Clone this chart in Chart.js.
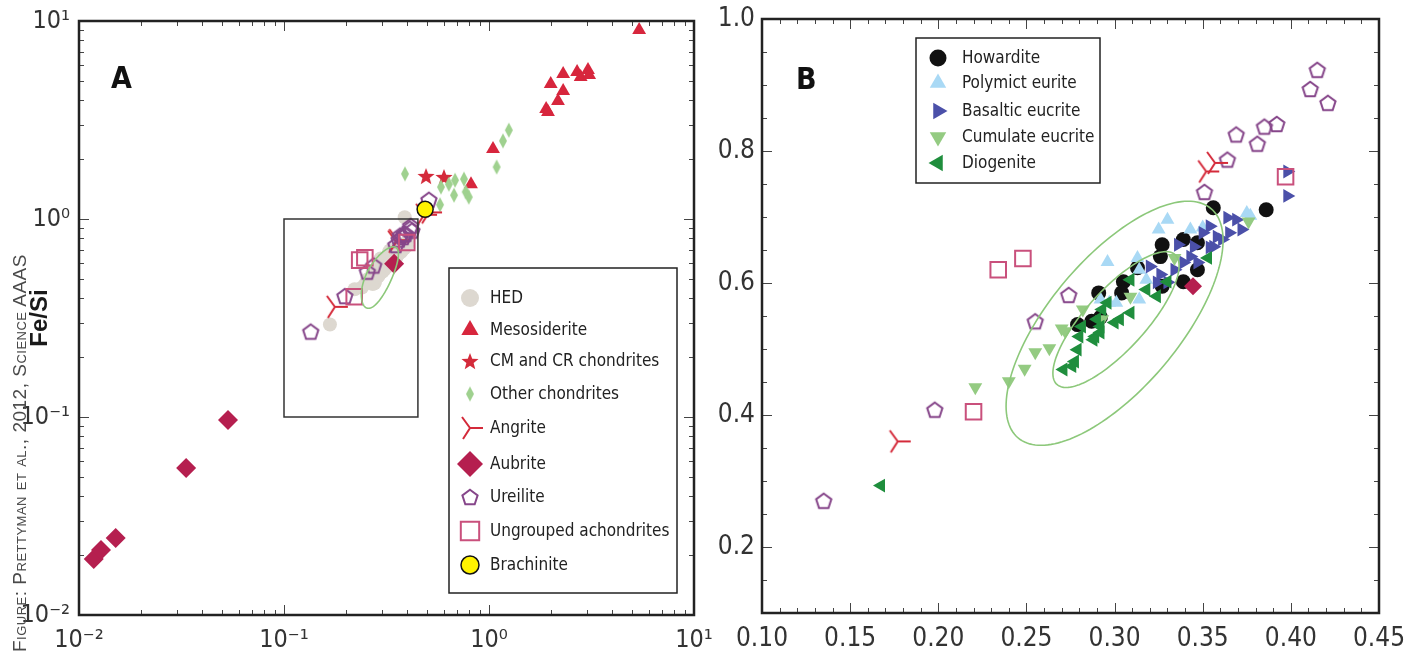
<!DOCTYPE html>
<html>
<head>
<meta charset="utf-8">
<title>Fe/Si vs Mg/Si</title>
<script src="https://cdn.jsdelivr.net/npm/chart.js@4.4.1/dist/chart.umd.min.js"></script>
<style>
  html, body { margin: 0; padding: 0; background: #fff; }
  body { width: 1413px; height: 657px; position: relative; overflow: hidden; }
  .panel { position: absolute; top: 0; }
  #wrapA { left: 0; }
  #wrapB { left: 700px; }
  .tag { position: absolute; font: bold 30px 'Liberation Sans Narrow', 'DejaVu Sans Condensed', sans-serif; line-height: 30px; color: #111; }
  #credit {
    position: absolute; left: 10px; top: 652px; white-space: nowrap;
    transform-origin: 0 0; transform: rotate(-90deg);
    font: 19px 'Liberation Sans', Arial, sans-serif; font-variant: small-caps;
    letter-spacing: 0.5px; line-height: 20px; color: #4a4a4a;
  }
</style>
</head>
<body>
<div class="panel" id="wrapA"><canvas id="chartA" width="720" height="657"></canvas></div>
<div class="panel" id="wrapB"><canvas id="chartB" width="713" height="657"></canvas></div>
<div class="tag" style="left:111px; top:63px;">A</div>
<div class="tag" style="left:796px; top:64px;">B</div>
<div id="credit">Figure: Prettyman et al., 2012, Science AAAS</div>

<script>
// ---- meteorite groups inside the HED window (panel B, also shown in A) ----
// [Mg/Si, Fe/Si]
const HOWARDITE = [[0.356, 0.714], [0.386, 0.711], [0.339, 0.666], [0.327, 0.658], [0.347, 0.661],
  [0.326, 0.640], [0.313, 0.623], [0.347, 0.620], [0.339, 0.602], [0.327, 0.595], [0.305, 0.602],
  [0.304, 0.585], [0.291, 0.585], [0.279, 0.537], [0.287, 0.542], [0.292, 0.548]];
const POLYMICT = [[0.330, 0.696], [0.325, 0.681], [0.343, 0.681], [0.296, 0.632], [0.313, 0.638],
  [0.375, 0.706], [0.350, 0.684], [0.314, 0.620], [0.301, 0.570], [0.314, 0.575], [0.297, 0.570],
  [0.318, 0.605], [0.377, 0.702], [0.292, 0.575]];
const BASALTIC = [[0.398, 0.769], [0.398, 0.732], [0.354, 0.686], [0.364, 0.699], [0.369, 0.696],
  [0.372, 0.681], [0.358, 0.670], [0.365, 0.676], [0.361, 0.666], [0.354, 0.654], [0.345, 0.655],
  [0.336, 0.658], [0.343, 0.640], [0.339, 0.631], [0.347, 0.631], [0.326, 0.613], [0.324, 0.601],
  [0.320, 0.625], [0.330, 0.601], [0.350, 0.676], [0.356, 0.655], [0.334, 0.620]];
const CUMULATE = [[0.221, 0.442], [0.240, 0.451], [0.249, 0.470], [0.255, 0.495], [0.263, 0.501],
  [0.272, 0.527], [0.282, 0.560], [0.309, 0.579], [0.334, 0.638], [0.376, 0.693], [0.293, 0.545],
  [0.270, 0.531]];
const DIOGENITE = [[0.1675, 0.293], [0.271, 0.469], [0.276, 0.474], [0.2775, 0.481], [0.279, 0.499],
  [0.280, 0.519], [0.2815, 0.534], [0.289, 0.519], [0.292, 0.534], [0.290, 0.545], [0.293, 0.560],
  [0.296, 0.570], [0.309, 0.555], [0.303, 0.545], [0.300, 0.540], [0.309, 0.605], [0.318, 0.590],
  [0.324, 0.580], [0.330, 0.602], [0.353, 0.638], [0.288, 0.514], [0.292, 0.525]];
const UREILITE = [[0.135, 0.270], [0.198, 0.408], [0.255, 0.542], [0.274, 0.582], [0.351, 0.738],
  [0.364, 0.787], [0.369, 0.825], [0.381, 0.811], [0.385, 0.837], [0.392, 0.841], [0.411, 0.894],
  [0.415, 0.923], [0.421, 0.873]];
const ANGRITE = [[0.177, 0.360], [0.352, 0.769], [0.357, 0.782]];
const UNGROUPED = [[0.220, 0.405], [0.234, 0.620], [0.248, 0.637], [0.397, 0.761]];
const AUBRITE = [[0.3445, 0.595]];

// ---- points only in the wide view (panel A) ----
const HED_EXTRA = [[0.388, 1.02]];
const MESOSIDERITE = [[5.40, 9.01], [2.30, 5.40], [2.69, 5.53], [3.04, 5.66], [2.80, 5.21], [3.08, 5.33],
  [2.00, 4.81], [2.30, 4.43], [2.17, 3.94], [1.90, 3.59], [1.94, 3.47], [1.046, 2.26], [0.817, 1.50]];
const CM_CR = [[0.493, 1.65], [0.603, 1.63]];
const OTHER_CHONDRITES = [[0.389, 1.69], [1.25, 2.81], [1.17, 2.48], [1.09, 1.83], [0.583, 1.45],
  [0.637, 1.50], [0.683, 1.57], [0.755, 1.59], [0.675, 1.32], [0.770, 1.37], [0.797, 1.29], [0.577, 1.18]];
const ANGRITE_EXTRA = [[0.482, 1.05], [0.510, 1.08]];
const AUBRITE_EXTRA = [[0.0118, 0.0192], [0.0128, 0.0213], [0.0151, 0.0245], [0.0333, 0.0552], [0.0533, 0.0966]];
const UREILITE_EXTRA = [[0.509, 1.25]];
const BRACHINITE = [[0.488, 1.12]];

// HED fields: centre x, centre y, then two conjugate semi-axes (dx, dy) in data units
const ELLIPSE_OUTER = [0.300, 0.539, 0.0547, 0.1738, -0.0282, 0.0632];
const ELLIPSE_INNER = [0.3008, 0.5446, 0.0335, 0.0983, -0.0126, 0.0304];

// axes
const A_TICKS = [0.01, 0.1, 1, 10];
const A_TICK_LABELS = ['10\u207B\u00B2', '10\u207B\u00B9', '10\u2070', '10\u00B9'];
const B_X_TICKS = [0.10, 0.15, 0.20, 0.25, 0.30, 0.35, 0.40, 0.45];
const B_X_LABELS = ['0.10', '0.15', '0.20', '0.25', '0.30', '0.35', '0.40', '0.45'];
const B_Y_TICKS = [0.2, 0.4, 0.6, 0.8, 1.0];
const B_Y_LABELS = ['0.2', '0.4', '0.6', '0.8', '1.0'];
const B_X_RANGE = [0.10, 0.45];
const B_Y_RANGE = [0.1, 1.0];

const NARROW = "'Liberation Sans Narrow', 'DejaVu Sans Condensed', 'Arial Narrow', sans-serif";

// ---- custom marker shapes ----
function marker(w, h, draw) {
    const c = document.createElement('canvas');
    c.width = w;
    c.height = h;
    const ctx = c.getContext('2d');
    ctx.translate(w / 2, h / 2);
    draw(ctx);
    return c;
}

function pentagon(r, color) {
    return marker(2 * r + 4, 2 * r + 4, ctx => {
        ctx.beginPath();
        for (let k = 0; k < 5; k++) {
            const a = -Math.PI / 2 + k * 2 * Math.PI / 5;
            ctx.lineTo(r * Math.cos(a), r * Math.sin(a) + r * 0.1);
        }
        ctx.closePath();
        ctx.lineWidth = 2;
        ctx.strokeStyle = color;
        ctx.stroke();
    });
}

function star(ro, ri, color) {
    return marker(2 * ro + 2, 2 * ro + 2, ctx => {
        ctx.beginPath();
        for (let k = 0; k < 10; k++) {
            const a = -Math.PI / 2 + k * Math.PI / 5;
            const r = k % 2 ? ri : ro;
            ctx.lineTo(r * Math.cos(a), r * Math.sin(a) + ro * 0.1);
        }
        ctx.closePath();
        ctx.fillStyle = color;
        ctx.fill();
    });
}

function slimDiamond(hw, hh, color) {
    return marker(2 * hw + 2, 2 * hh + 2, ctx => {
        ctx.beginPath();
        ctx.moveTo(0, -hh);
        ctx.lineTo(hw, 0);
        ctx.lineTo(0, hh);
        ctx.lineTo(-hw, 0);
        ctx.closePath();
        ctx.fillStyle = color;
        ctx.fill();
    });
}

function angriteMark(color) {
    return marker(30, 28, ctx => {
        ctx.strokeStyle = color;
        ctx.lineWidth = 2;
        ctx.beginPath();
        ctx.moveTo(-8, -11);
        ctx.lineTo(0, 0);
        ctx.lineTo(-7, 11);
        ctx.moveTo(0, 0);
        ctx.lineTo(13, 0);
        ctx.stroke();
    });
}

const C = {
    hed: '#ddd8d0', meso: '#d7263d', red: '#d42a3a', other: '#9fd18f', aubrite: '#b51f4f',
    ureilite: '#86468a', ungrouped: '#c9507c', brach: '#fff200',
    howardite: '#111111', polymict: '#a9d9f5', basaltic: '#4b50a9', cumulate: '#94cb82', diogenite: '#1f8e3d'
};

const STYLE = {
    hed: { pointStyle: 'circle', pointRadius: 7, pointBackgroundColor: C.hed, pointBorderWidth: 0, legendRadius: 9 },
    meso: { pointStyle: 'triangle', pointRadius: 8, pointBackgroundColor: C.meso, pointBorderWidth: 0, legendRadius: 10 },
    cm: { pointStyle: star(9, 3.8, C.red), pointRadius: 8 },
    other: { pointStyle: slimDiamond(4, 7.5, C.other), pointRadius: 7 },
    angrite: { pointStyle: angriteMark(C.red), pointRadius: 8 },
    aubriteA: { pointStyle: 'rectRot', pointRadius: 10, pointBackgroundColor: C.aubrite, pointBorderWidth: 0, legendRadius: 13 },
    aubriteB: { pointStyle: 'rectRot', pointRadius: 9, pointBackgroundColor: C.aubrite, pointBorderWidth: 0 },
    ureilite: { pointStyle: pentagon(8, C.ureilite), pointRadius: 8 },
    ungrouped: { pointStyle: 'rect', pointRadius: 11, pointBackgroundColor: 'rgba(0,0,0,0)', pointBorderColor: C.ungrouped, pointBorderWidth: 2, legendRadius: 13 },
    brach: { pointStyle: 'circle', pointRadius: 8, pointBackgroundColor: C.brach, pointBorderColor: '#111', pointBorderWidth: 1.5, legendRadius: 9 },
    howardite: { pointStyle: 'circle', pointRadius: 7.5, pointBackgroundColor: C.howardite, pointBorderWidth: 0, legendRadius: 8.5 },
    polymict: { pointStyle: 'triangle', pointRadius: 8, pointBackgroundColor: C.polymict, pointBorderWidth: 0, legendRadius: 9.5 },
    basaltic: { pointStyle: 'triangle', pointRotation: 90, pointRadius: 8, pointBackgroundColor: C.basaltic, pointBorderWidth: 0, legendRadius: 9.5 },
    cumulate: { pointStyle: 'triangle', pointRotation: 180, pointRadius: 8, pointBackgroundColor: C.cumulate, pointBorderWidth: 0, legendRadius: 9.5 },
    diogenite: { pointStyle: 'triangle', pointRotation: 270, pointRadius: 8, pointBackgroundColor: C.diogenite, pointBorderWidth: 0, legendRadius: 9.5 }
};

function series(label, data, style) {
    return Object.assign({ label, data, showLine: false }, style);
}

// earlier series sit underneath later ones
function stack(list) {
    list.forEach((ds, i) => { ds.order = list.length - i; });
    return list;
}

function logMinor(lo, hi) {
    const out = [];
    for (let d = lo; d < hi; d++) {
        for (let k = 2; k <= 9; k++) out.push(k * Math.pow(10, d));
    }
    return out;
}

function linTicks(from, to, step, majorEvery) {
    const minor = [], major = [];
    for (let i = Math.round(from / step); i <= Math.round(to / step); i++) {
        (i % majorEvery === 0 ? major : minor).push(+(i * step).toFixed(4));
    }
    return { major, minor };
}

// frame, inward tick marks, ellipses, inset box and boxed legend
function decor(cfg) {
    return {
        id: 'decor',
        afterDatasetsDraw(chart) {
            const { ctx, chartArea: ca, scales: { x, y } } = chart;
            ctx.save();

            ctx.strokeStyle = '#8cc87a';
            ctx.lineWidth = 1.6;
            cfg.ellipses.forEach(e => {
                ctx.beginPath();
                for (let k = 0; k <= 160; k++) {
                    const t = k / 160 * 2 * Math.PI;
                    const px = x.getPixelForValue(e[0] + e[2] * Math.cos(t) + e[4] * Math.sin(t));
                    const py = y.getPixelForValue(e[1] + e[3] * Math.cos(t) + e[5] * Math.sin(t));
                    if (k) ctx.lineTo(px, py); else ctx.moveTo(px, py);
                }
                ctx.stroke();
            });

            if (cfg.inset) {
                const [x0, x1, y0, y1] = cfg.inset;
                const l = x.getPixelForValue(x0), r = x.getPixelForValue(x1);
                const t = y.getPixelForValue(y1), b = y.getPixelForValue(y0);
                ctx.strokeStyle = '#333';
                ctx.lineWidth = 1.5;
                ctx.strokeRect(l, t, r - l, b - t);
            }

            ctx.strokeStyle = '#444';
            ctx.lineWidth = 1;
            ctx.beginPath();
            const xMarks = (vals, len) => vals.forEach(v => {
                const p = Math.round(x.getPixelForValue(v)) + 0.5;
                ctx.moveTo(p, ca.bottom); ctx.lineTo(p, ca.bottom - len);
                ctx.moveTo(p, ca.top); ctx.lineTo(p, ca.top + len);
            });
            const yMarks = (vals, len) => vals.forEach(v => {
                const p = Math.round(y.getPixelForValue(v)) + 0.5;
                ctx.moveTo(ca.left, p); ctx.lineTo(ca.left + len, p);
                ctx.moveTo(ca.right, p); ctx.lineTo(ca.right - len, p);
            });
            xMarks(cfg.xTicks.major, 10);
            xMarks(cfg.xTicks.minor, 5);
            yMarks(cfg.yTicks.major, 10);
            yMarks(cfg.yTicks.minor, 5);
            ctx.stroke();

            ctx.strokeStyle = '#222';
            ctx.lineWidth = 2.5;
            ctx.strokeRect(ca.left, ca.top, ca.width, ca.height);

            const lg = cfg.legend;
            ctx.fillStyle = '#fff';
            ctx.fillRect(lg.box[0], lg.box[1], lg.box[2], lg.box[3]);
            ctx.strokeStyle = '#222';
            ctx.lineWidth = 1.5;
            ctx.strokeRect(lg.box[0], lg.box[1], lg.box[2], lg.box[3]);
            ctx.font = lg.font;
            ctx.textBaseline = 'middle';
            lg.items.forEach((idx, row) => {
                const ds = chart.data.datasets[idx];
                const cy = lg.rows[row];
                ctx.save();
                ctx.fillStyle = ds.pointBackgroundColor || 'rgba(0,0,0,0)';
                ctx.strokeStyle = ds.pointBorderColor || 'rgba(0,0,0,0)';
                ctx.lineWidth = ds.pointBorderWidth || 0;
                Chart.helpers.drawPoint(ctx, {
                    pointStyle: ds.pointStyle,
                    rotation: ds.pointRotation || 0,
                    radius: ds.legendRadius || ds.pointRadius,
                    borderWidth: ds.pointBorderWidth || 0
                }, lg.markerX, cy);
                ctx.restore();
                ctx.fillStyle = '#222';
                ctx.fillText(ds.label, lg.textX, cy + 1);
            });
            ctx.restore();
        }
    };
}

function fixedAxis(size, horizontal) {
    return scale => {
        if (horizontal) scale.height = size; else scale.width = size;
        scale.paddingLeft = scale.paddingRight = scale.paddingTop = scale.paddingBottom = 0;
    };
}

Chart.defaults.font.family = NARROW;

// ---- panel A: full range, log-log ----
const datasetsA = stack([
    series('HED', [...HOWARDITE, ...POLYMICT, ...BASALTIC, ...CUMULATE, ...DIOGENITE, ...HED_EXTRA], STYLE.hed),
    series('Mesosiderite', MESOSIDERITE, STYLE.meso),
    series('CM and CR chondrites', CM_CR, STYLE.cm),
    series('Other chondrites', OTHER_CHONDRITES, STYLE.other),
    series('Angrite', [...ANGRITE, ...ANGRITE_EXTRA], STYLE.angrite),
    series('Aubrite', [...AUBRITE_EXTRA, ...AUBRITE], STYLE.aubriteA),
    series('Ureilite', [...UREILITE, ...UREILITE_EXTRA], STYLE.ureilite),
    series('Ungrouped achondrites', UNGROUPED, STYLE.ungrouped),
    series('Brachinite', BRACHINITE, STYLE.brach)
]);

new Chart(document.getElementById('chartA'), {
    type: 'scatter',
    data: { datasets: datasetsA },
    options: {
        responsive: false,
        animation: false,
        events: [],
        clip: false,
        layout: { padding: { top: 21, right: 26, left: 0, bottom: 0 } },
        plugins: { legend: { display: false }, tooltip: { enabled: false } },
        scales: {
            x: {
                type: 'logarithmic', min: 0.01, max: 10,
                grid: { display: false, drawTicks: false },
                border: { display: false },
                afterBuildTicks: s => { s.ticks = A_TICKS.map(v => ({ value: v })); },
                afterFit: fixedAxis(42, true),
                ticks: {
                    autoSkip: false, maxRotation: 0, padding: 10, color: '#333',
                    font: { size: 25 },
                    callback: (v, i) => A_TICK_LABELS[i]
                }
            },
            y: {
                type: 'logarithmic', min: 0.01, max: 10,
                grid: { display: false, drawTicks: false },
                border: { display: false },
                afterBuildTicks: s => { s.ticks = A_TICKS.map(v => ({ value: v })); },
                afterFit: fixedAxis(79, false),
                title: {
                    display: true, text: 'Fe/Si', color: '#1a1a1a',
                    font: { family: "'Liberation Sans', Arial, sans-serif", size: 24, weight: 'bold' },
                    padding: { top: 26, bottom: 0 }
                },
                ticks: {
                    autoSkip: false, padding: 9, color: '#333',
                    font: { size: 25 },
                    callback: (v, i) => A_TICK_LABELS[i]
                }
            }
        }
    },
    plugins: [decor({
        ellipses: [ELLIPSE_OUTER],
        inset: [B_X_RANGE[0], B_X_RANGE[1], B_Y_RANGE[0], B_Y_RANGE[1]],
        xTicks: { major: A_TICKS, minor: logMinor(-2, 1) },
        yTicks: { major: A_TICKS, minor: logMinor(-2, 1) },
        legend: {
            box: [449, 268, 228, 325],
            rows: [298, 330, 361, 394, 428, 464, 497, 531, 565],
            markerX: 470, textX: 490,
            font: '17px ' + NARROW,
            items: [0, 1, 2, 3, 4, 5, 6, 7, 8]
        }
    })]
});

// ---- panel B: zoom on the HED window, linear ----
const datasetsB = stack([
    series('Howardite', HOWARDITE, STYLE.howardite),
    series('Polymict eurite', POLYMICT, STYLE.polymict),
    series('Basaltic eucrite', BASALTIC, STYLE.basaltic),
    series('Cumulate eucrite', CUMULATE, STYLE.cumulate),
    series('Diogenite', DIOGENITE, STYLE.diogenite),
    series('Ureilite', UREILITE, STYLE.ureilite),
    series('Angrite', ANGRITE, STYLE.angrite),
    series('Ungrouped achondrites', UNGROUPED, STYLE.ungrouped),
    series('Aubrite', AUBRITE, STYLE.aubriteB)
]);

const bx = linTicks(0.10, 0.45, 0.01, 5);
const by = linTicks(0.10, 1.00, 0.05, 4);

new Chart(document.getElementById('chartB'), {
    type: 'scatter',
    data: { datasets: datasetsB },
    options: {
        responsive: false,
        animation: false,
        events: [],
        clip: false,
        layout: { padding: { top: 19, right: 34, left: 0, bottom: 0 } },
        plugins: { legend: { display: false }, tooltip: { enabled: false } },
        scales: {
            x: {
                type: 'linear', min: B_X_RANGE[0], max: B_X_RANGE[1],
                grid: { display: false, drawTicks: false },
                border: { display: false },
                afterBuildTicks: s => { s.ticks = B_X_TICKS.map(v => ({ value: v })); },
                afterFit: fixedAxis(44, true),
                ticks: {
                    autoSkip: false, maxRotation: 0, padding: 11, color: '#333',
                    font: { size: 26 },
                    callback: (v, i) => B_X_LABELS[i]
                }
            },
            y: {
                type: 'linear', min: B_Y_RANGE[0], max: B_Y_RANGE[1],
                grid: { display: false, drawTicks: false },
                border: { display: false },
                afterBuildTicks: s => { s.ticks = B_Y_TICKS.map(v => ({ value: v })); },
                afterFit: fixedAxis(62, false),
                ticks: {
                    autoSkip: false, padding: 7, color: '#333',
                    font: { size: 26 },
                    callback: (v, i) => B_Y_LABELS[i]
                }
            }
        }
    },
    plugins: [decor({
        ellipses: [ELLIPSE_OUTER, ELLIPSE_INNER],
        xTicks: { major: bx.major, minor: bx.minor },
        yTicks: { major: by.major, minor: by.minor },
        legend: {
            box: [216, 38, 184, 145],
            rows: [58, 83, 111, 137, 163],
            markerX: 238, textX: 262,
            font: '17px ' + NARROW,
            items: [0, 1, 2, 3, 4]
        }
    })]
});
</script>
</body>
</html>
